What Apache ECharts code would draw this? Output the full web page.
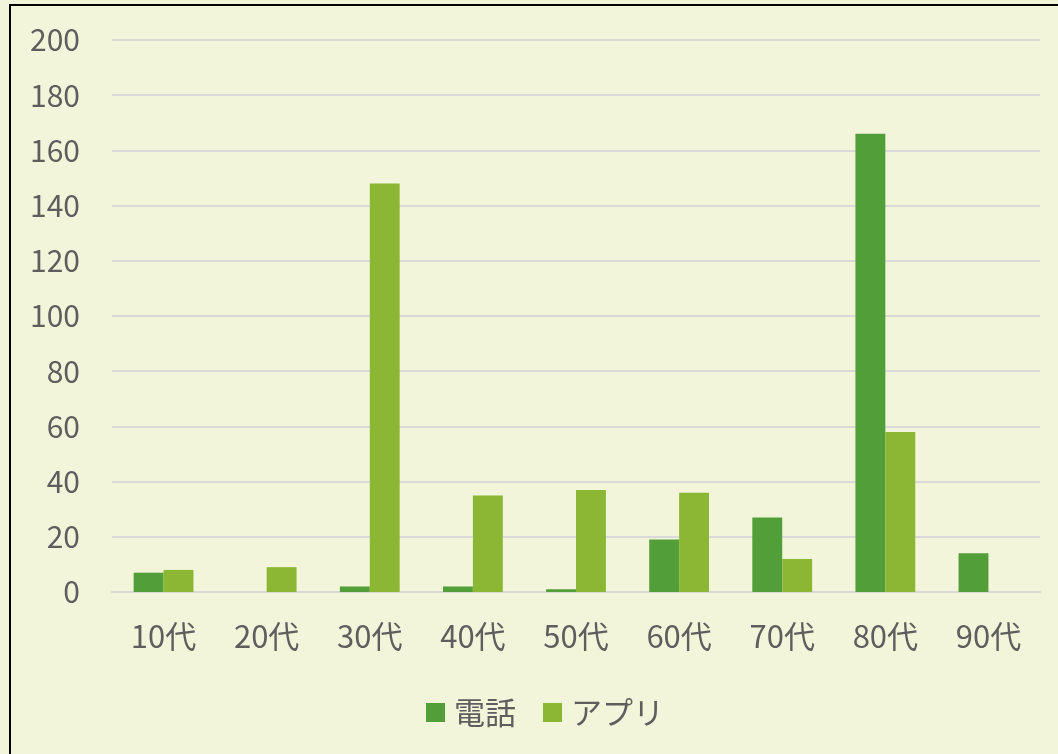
<!DOCTYPE html>
<html><head><meta charset="utf-8">
<script src="https://cdn.jsdelivr.net/npm/echarts@6/dist/echarts.min.js"></script>
<style>html,body{margin:0;padding:0;background:#F2F5DA;}#c{width:1058px;height:754px;}</style>
</head><body><div id="c"></div>
<script>
const categories = ['10代','20代','30代','40代','50代','60代','70代','80代','90代'];
const phone = [7, 0, 2, 2, 1, 19, 27, 166, 14];
const app = [8, 9, 148, 35, 37, 36, 12, 58, 0];
const yTicks = {min: 0, max: 200, interval: 20};

const font = '"Noto Sans CJK JP", "Noto Sans", sans-serif';
const chart = echarts.init(document.getElementById('c'));
chart.setOption({
  backgroundColor: '#F2F5DA',
  animation: false,
  textStyle: {fontFamily: font},
  graphic: [{type: 'rect', shape: {x: 10, y: 5, width: 1060, height: 760}, style: {fill: 'none', stroke: '#000', lineWidth: 2}, silent: true}],
  grid: {left: 112, right: 18, top: 40, bottom: 162, containLabel: false},
  legend: {
    bottom: 21, left: 421, itemWidth: 19, itemHeight: 19, itemGap: 27,
    icon: 'rect',
    textStyle: {fontSize: 31, color: '#5E5E5E', fontFamily: font, padding: [0, 0, 0, 4]},
    data: ['電話', 'アプリ']
  },
  xAxis: {
    type: 'category', data: categories,
    axisLine: {lineStyle: {color: '#D9D9D9', width: 2}},
    axisTick: {show: false},
    axisLabel: {fontSize: 31, color: '#5E5E5E', margin: 29, fontFamily: font}
  },
  yAxis: {
    type: 'value', min: yTicks.min, max: yTicks.max, interval: yTicks.interval,
    axisLine: {show: false}, axisTick: {show: false},
    splitLine: {lineStyle: {color: '#D9D9D9', width: 2}},
    axisLabel: {fontSize: 30, color: '#5E5E5E', margin: 32, fontFamily: font}
  },
  series: [
    {name: '電話', type: 'bar', data: phone, barGap: '0%', barCategoryGap: '42%',
     itemStyle: {color: '#529E38'}},
    {name: 'アプリ', type: 'bar', data: app,
     itemStyle: {color: '#8CB734'}}
  ]
});
</script></body></html>
